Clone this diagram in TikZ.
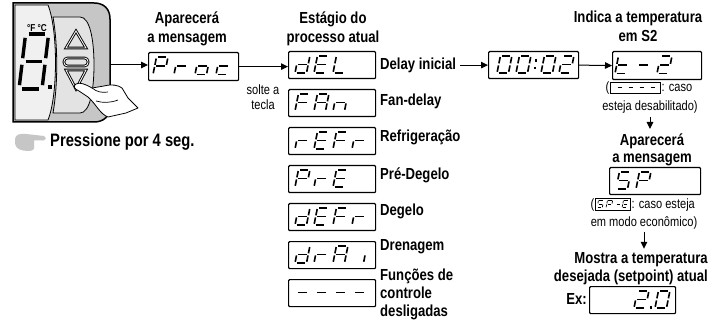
\documentclass[tikz,border=0pt]{standalone}
\usepackage{fontspec}
\setmainfont[FakeStretch=0.82]{Liberation Sans}
\usetikzlibrary{arrows.meta}
\tikzset{
  disp/.style={draw=black, line width=1.2pt, rounded corners=1pt, inner sep=0pt, anchor=north west, fill=white},
  mini/.style={draw=black, line width=0.7pt, inner sep=0pt, anchor=west, fill=white},
  arr/.style={-{Triangle[length=7pt,width=6.5pt]}, line width=1pt},
  lbl/.style={font=\bfseries\fontsize{16}{19}\selectfont, inner sep=0pt},
  note/.style={font=\fontsize{13.5}{17}\selectfont, inner sep=0pt},
  big/.style={font=\bfseries\fontsize{18}{21}\selectfont, inner sep=0pt},
  segline/.style={line cap=butt},
  devline/.style={draw=black, line width=0.8pt},
}
% seven segment pieces (unit: width 1, height 2, y up)
\def\segpa{\draw[segline] (0.14,2)--(0.86,2);}
\def\segpb{\draw[segline] (1,1.86)--(1,1.12);}
\def\segpc{\draw[segline] (1,0.88)--(1,0.14);}
\def\segpd{\draw[segline] (0.14,0)--(0.86,0);}
\def\segpe{\draw[segline] (0,0.14)--(0,0.88);}
\def\segpf{\draw[segline] (0,1.12)--(0,1.86);}
\def\segpg{\draw[segline] (0.14,1)--(0.86,1);}
\def\chP{a,b,e,f,g}
\def\chr{e,g}
\def\cho{c,d,e,g}
\def\chc{d,e,g}
\def\chd{b,c,d,e,g}
\def\chE{a,d,e,f,g}
\def\chL{d,e,f}
\def\chF{a,e,f,g}
\def\chA{a,b,c,e,f,g}
\def\chn{c,e,g}
\def\cht{d,e,f,g}
\def\chm{g}
\def\chtwo{a,b,g,e,d}
\def\chzero{a,b,c,d,e,f}
\def\chS{a,f,g,c,d}
\def\chi{c}
\newcommand\dchar[4][1]{%
  \pgfmathsetmacro\dcx{11.5*#1}%
  \pgfmathsetmacro\dcy{8.6*#1}%
  \pgfmathsetmacro\dclw{1.6*#1}%
  \edef\dclist{#4}%
  \begin{scope}[shift={(#2,#3)},x=\dcx pt,y=\dcy pt,xslant=0.2,line width=\dclw pt]
    \foreach \s in \dclist {\csname segp\s\endcsname}
  \end{scope}}
\begin{document}
\begin{tikzpicture}[x=1pt,y=-1pt]
\useasboundingbox (0,0) rectangle (720,323);
\fill[white] (0,0) rectangle (720,323);

% ---------- device ----------
\draw[line width=1.5pt, fill=gray!45] (13,3) -- (94,3) .. controls (104,3) and (110,9) .. (110,19)
  -- (110,106) .. controls (110,116) and (104,122) .. (94,122) -- (13,122) -- cycle;
\draw[devline, fill=gray!12] (15,5) -- (48,5) .. controls (58,30) and (58,95) .. (48,120) -- (15,120) -- cycle;
\draw[devline, fill=gray!22] (53,17) -- (80,17) .. controls (90,17) and (94,40) .. (94,65)
  .. controls (94,90) and (90,113) .. (80,113) -- (53,113) .. controls (58,85) and (58,45) .. (53,17) -- cycle;
\draw[line width=0.9pt, double=gray!10, double distance=0.9pt] (66,48) -- (86,48) -- (76,31) -- cycle;
\draw[line width=0.9pt, double=gray!10, double distance=0.9pt, rounded corners=3.5pt] (64,58) rectangle (88,66);
\draw[line width=0.9pt, double=gray!10, double distance=0.9pt] (66,70) -- (86,70) -- (76,89) -- cycle;
% big digit 8.
\begin{scope}[shift={(19,89)},x=23pt,y=27.5pt,xslant=0.12,line width=3.4pt]
  \foreach \s in {a,b,c,d,e,f,g} {\csname segp\s\endcsname}
\end{scope}
\fill (48,85) rectangle (52,89);
\node[inner sep=0pt, font=\bfseries\fontsize{10}{10}\selectfont] (units) at (37,28) {°F °C};
% hand pressing the key
\draw[line width=0.8pt, fill=white, line join=round]
  (76,84) .. controls (80,82) and (85,84) .. (92,88)
  -- (104,86) .. controls (112,84) and (118,85) .. (122,88)
  -- (128,98) -- (138,108) -- (126,113) -- (108,117)
  .. controls (100,114) and (96,104) .. (88,97)
  -- (79,91) .. controls (74,89) and (73,86) .. (76,84) -- cycle;
\draw[line width=0.7pt] (92,88) .. controls (97,92) and (102,93) .. (108,92);
\draw[line width=0.7pt] (96,101) .. controls (103,103) and (110,103) .. (118,100);
% pointing hand icon
\fill[gray!45] (15,139) .. controls (15,135) and (20,133) .. (26,134) -- (44,136)
  .. controls (46.5,136.5) and (46.5,140) .. (44,140.5) -- (34,140.5) -- (34,148)
  .. controls (34,151) and (29,151.5) .. (23,150.5) .. controls (17,149.5) and (15,146) .. (15,142) -- cycle;
\node[big, anchor=base west] (press) at (50,147) {Pressione por 4 seg.};
\coordinate (dev) at (111,65);

% ---------- Proc ----------
\node[lbl, anchor=base] (ap1a) at (187,24) {Aparecerá};
\node[lbl, anchor=base] (ap1b) at (187,43) {a mensagem};
\node[disp, minimum width=90pt, minimum height=28pt] (proc) at (148,52) {};
\dchar{153}{74.5}{\chP}
\dchar{174}{74.5}{\chr}
\dchar{195}{74.5}{\cho}
\dchar{216}{74.5}{\chc}
\draw[arr] (dev) -- (dev -| proc.west);
\node[note, anchor=base] (solte1) at (263,95) {solte a};
\node[note, anchor=base] (solte2) at (263,110) {tecla};

% ---------- stage column ----------
\node[lbl, anchor=base] (est1) at (333,24) {Estágio do};
\node[lbl, anchor=base] (est2) at (333,43) {processo atual};
\node[disp, minimum width=87pt, minimum height=27pt] (del) at (288,51) {};
\node[disp, minimum width=87pt, minimum height=27pt] (fan) at (288,89) {};
\node[disp, minimum width=87pt, minimum height=27pt] (refr) at (288,127) {};
\node[disp, minimum width=87pt, minimum height=27pt] (pre) at (288,165) {};
\node[disp, minimum width=87pt, minimum height=27pt] (defr) at (288,203) {};
\node[disp, minimum width=87pt, minimum height=27pt] (drai) at (288,241) {};
\node[disp, minimum width=87pt, minimum height=27pt] (off) at (288,279) {};
\draw[arr] (proc.east) -- (proc.east -| del.west);
% dEL
\dchar{295}{73}{\chd}\dchar{314}{73}{\chE}\dchar{333}{73}{\chL}
% FAn
\dchar{295}{111}{\chF}\dchar{314}{111}{\chA}\dchar{333}{111}{\chn}
% rEFr
\dchar{295}{149}{\chr}\dchar{314}{149}{\chE}\dchar{333}{149}{\chF}\dchar{352}{149}{\chr}
% PrE
\dchar{295}{187}{\chP}\dchar{314}{187}{\chr}\dchar{333}{187}{\chE}
% dEFr
\dchar{295}{225}{\chd}\dchar{314}{225}{\chE}\dchar{333}{225}{\chF}\dchar{352}{225}{\chr}
% drAi
\dchar{295}{263}{\chd}\dchar{314}{263}{\chr}\dchar{333}{263}{\chA}\dchar{352}{263}{\chi}
% ----
\dchar{295}{301}{\chm}\dchar{314}{301}{\chm}\dchar{333}{301}{\chm}\dchar{352}{301}{\chm}

\node[lbl, anchor=base west] (l1) at (380,70) {Delay inicial};
\node[lbl, anchor=base west] (l2) at (380,106) {Fan-delay};
\node[lbl, anchor=base west] (l3) at (380,142) {Refrigeração};
\node[lbl, anchor=base west] (l4) at (380,180) {Pré-Degelo};
\node[lbl, anchor=base west] (l5) at (380,215) {Degelo};
\node[lbl, anchor=base west] (l6) at (380,250) {Drenagem};
\node[lbl, anchor=base west] (l7a) at (380,280) {Funções de};
\node[lbl, anchor=base west] (l7b) at (380,298) {controle};
\node[lbl, anchor=base west] (l7c) at (380,316) {desligadas};

% ---------- timer ----------
\node[disp, minimum width=90pt, minimum height=27pt] (timer) at (488,51) {};
\dchar{497}{73}{\chzero}\dchar{516}{73}{\chzero}\dchar{541}{73}{\chzero}\dchar{559}{73}{\chtwo}
\fill (535.2,59.5) rectangle (537.4,61.7);
\fill (533.6,67.3) rectangle (535.8,69.5);
\draw[arr] (l1.east |- timer.west) ++(4,0) -- (timer.west);

% ---------- t-2 ----------
\node[lbl, anchor=base] (ind1) at (638,23) {Indica a temperatura};
\node[lbl, anchor=base] (ind2) at (638,42) {em S2};
\node[disp, minimum width=89pt, minimum height=28pt] (t2) at (612,51) {};
\dchar{615}{73.5}{\cht}\dchar{636}{73.5}{\chm}\dchar{657}{73.5}{\chtwo}
\draw[arr] (timer.east) -- (t2.west);

\node[note, anchor=base east] (n1p) at (609.5,92) {(};
\node[mini, minimum width=50pt, minimum height=11pt] (n1box) at (610,88) {};
\dchar[0.5]{616}{92.2}{\chm}\dchar[0.5]{627}{92.2}{\chm}\dchar[0.5]{638}{92.2}{\chm}\dchar[0.5]{649}{92.2}{\chm}
\node[note, anchor=base west] (n1c) at (661.5,92) {: caso};
\node[note, anchor=base] (n1b) at (650,111) {esteja desabilitado)};
\draw[arr, shorten <=3pt, shorten >=4pt] (n1b.south) -- (n1b.south |- 0,133);

% ---------- SP ----------
\node[lbl, anchor=base] (ap2a) at (652,146) {Aparecerá};
\node[lbl, anchor=base] (ap2b) at (652,163) {a mensagem};
\node[disp, minimum width=91pt, minimum height=27pt] (sp) at (609,167) {};
\dchar{616}{189}{\chS}\dchar{636}{189}{\chP}

\node[note, anchor=base east] (n2p) at (594.5,208) {(};
\node[mini, minimum width=35pt, minimum height=12pt] (n2box) at (595,204) {};
\dchar[0.45]{597}{207.8}{\chS}\dchar[0.45]{606}{207.8}{\chP}\dchar[0.45]{615}{207.8}{\chm}\dchar[0.45]{622}{207.8}{\chE}
\node[note, anchor=base west] (n2c) at (631.5,208) {: caso esteja};
\node[note, anchor=base] (n2b) at (644,226) {em modo econômico)};

% ---------- setpoint ----------
\node[lbl, anchor=base east] (mo1) at (708,263) {Mostra a temperatura};
\node[lbl, anchor=base east] (mo2) at (708,281) {desejada (setpoint) atual};
\draw[arr, shorten <=3pt, shorten >=3pt] (n2b.south) -- (n2b.south |- mo1.north);
\node[lbl, anchor=base east] (ex) at (587,304) {Ex:};
\node[disp, minimum width=86pt, minimum height=27pt] (exbox) at (589,286) {};
\dchar{634}{308}{\chtwo}\fill (650,306.3) rectangle (652.3,308.6);\dchar{655}{308}{\chzero}
\end{tikzpicture}
\end{document}
